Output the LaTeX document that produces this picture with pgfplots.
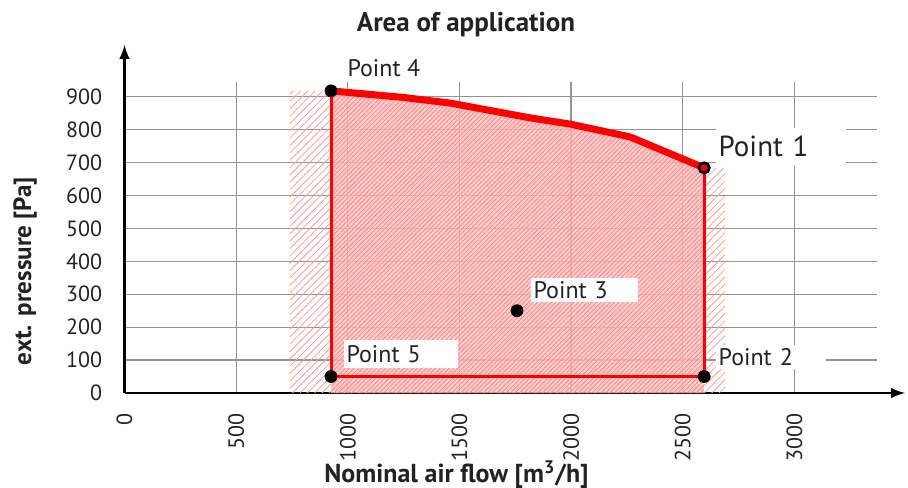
\documentclass[border=0pt]{standalone}
\usepackage{pgfplots}
\pgfplotsset{compat=1.18}
\usepackage{fontspec}
\setmainfont{PT Sans}
\usetikzlibrary{patterns.meta}
\definecolor{txt}{HTML}{222222}
\begin{document}
\begin{tikzpicture}
\path[use as bounding box] (-62.25pt,-47pt) rectangle (391.75pt,196.5pt);
\begin{axis}[
 at={(0,0)}, anchor=south west,
 scale only axis, width=376.25pt, height=155.5pt,
 xmin=0, xmax=3370, ymin=0, ymax=945,
 axis lines=left,
 x axis line style={-latex, line width=1.4pt, shorten >=-14pt},
 y axis line style={-latex, line width=1.4pt, shorten >=-18.5pt},
 xtick={0,500,...,3000}, ytick={0,100,...,900},
 major tick length=0pt,
 grid=major, grid style={gray!85, line width=0.6pt},
 clip=false,
 /pgf/number format/assume math mode=true,
 /pgf/number format/1000 sep={},
 ticklabel style={font=\fontsize{11}{13}\selectfont, text=txt, inner sep=0pt},
 xticklabel style={rotate=90, anchor=east},
 xticklabel shift=10pt, yticklabel shift=11pt,
]
% outer light hatch band
\addplot[draw=none, pattern={Lines[angle=45,distance=2.6pt,line width=0.4pt]}, pattern color=red!40]
 coordinates {(741,0) (741,920) (925,918) (1250,898) (1458,881) (1817,836) (1996,817) (2265,778) (2596,684) (2690,684) (2690,0)};
% inner dense region
\addplot[draw=none, fill=red!24, fill opacity=0.75,
 postaction={pattern={Lines[angle=45,distance=1.6pt,line width=0.35pt]}, pattern color=red!50}]
 coordinates {(925,0) (925,918) (1250,898) (1458,881) (1817,836) (1996,817) (2265,778) (2596,684) (2596,0)};
% boundary
\addplot[red, line width=1.5pt] coordinates {(925,918) (925,50) (2596,50) (2596,684)};
\addplot[red, line width=3.5pt, line join=round] coordinates {(925,918) (1250,898) (1458,881) (1817,836) (1996,817) (2265,778) (2596,684)};
% points
\addplot[only marks, mark=*, mark size=3pt, black] coordinates {(925,918) (925,50) (2596,50) (1758,250)};
\addplot[only marks, mark=*, mark size=2.6pt, mark options={fill=red, draw=black, line width=1.3pt}] coordinates {(2596,684)};
% labels
\node[anchor=west, inner sep=0pt, text=txt, font=\fontsize{12}{14}\selectfont] at (axis cs:997,987) {Point 4};
\node[anchor=west, fill=white, inner xsep=1.5pt, inner ysep=0pt, text width=62pt, minimum height=18.5pt, text=txt, font=\fontsize{14.5}{16}\selectfont] at (axis cs:2646,750) {Point 1};
\node[anchor=west, fill=white, inner xsep=1.5pt, inner ysep=0pt, text width=50.5pt, minimum height=12pt, text=txt, font=\fontsize{12}{14}\selectfont] at (axis cs:1817,313) {Point 3};
\node[anchor=west, fill=white, inner xsep=1.5pt, inner ysep=0pt, text width=54pt, minimum height=14pt, text=txt, font=\fontsize{12}{14}\selectfont] at (axis cs:979,118.5) {Point 5};
\node[anchor=west, fill=white, inner xsep=1.5pt, inner ysep=0pt, text width=52pt, minimum height=12pt, text=txt, font=\fontsize{12}{14}\selectfont] at (axis cs:2646,109) {Point 2};
\end{axis}
\node[anchor=base, inner sep=0pt, text=txt, font=\bfseries\fontsize{13.5}{15}\selectfont] at (170.75pt,180.5pt) {Area of application};
\node[anchor=base, inner sep=0pt, text=txt, font=\bfseries\fontsize{13}{15}\selectfont] at (166pt,-44.5pt) {Nominal air flow [m\textsuperscript{3}/h]};
\node[rotate=90, inner sep=0pt, text=txt, font=\bfseries\fontsize{12.5}{14}\selectfont] at (-49.75pt,61pt) {ext. pressure [Pa]};
\end{tikzpicture}
\end{document}
